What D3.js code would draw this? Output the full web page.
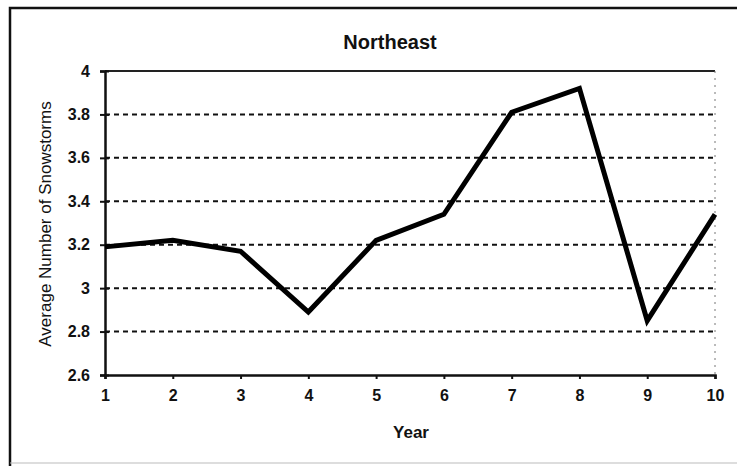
<!DOCTYPE html>
<html>
<head>
<meta charset="utf-8">
<script src="https://cdn.jsdelivr.net/npm/d3@7"></script>
<style>
    body { margin: 0; background: #fff; }
    svg text { font-family: "Liberation Sans", Arial, sans-serif; fill: #111; }
</style>
</head>
<body>
<div id="chart"></div>
<script>
const years = [1, 2, 3, 4, 5, 6, 7, 8, 9, 10];
const snowstorms = [3.19, 3.22, 3.17, 2.89, 3.22, 3.34, 3.81, 3.92, 2.85, 3.34];
const yTicks = [2.6, 2.8, 3, 3.2, 3.4, 3.6, 3.8, 4];

const config = {
    width: 739,
    height: 468,
    margins: { top: 71, right: 24, bottom: 93, left: 105 }
};
const plotW = config.width - config.margins.left - config.margins.right;
const plotH = config.height - config.margins.top - config.margins.bottom;

const svg = d3.select('#chart').append('svg')
    .attr('width', config.width)
    .attr('height', config.height);

// outer frame
svg.append('path')
    .attr('d', 'M10,466 L10,8 L737,8')
    .attr('fill', 'none')
    .attr('stroke', '#111')
    .attr('stroke-width', 2.5);
svg.append('line')
    .attr('x1', 10).attr('x2', 737).attr('y1', 463).attr('y2', 463)
    .attr('stroke', '#bbb').attr('stroke-width', 1);

const g = svg.append('g')
    .attr('transform', 'translate(' + config.margins.left + ',' + config.margins.top + ')');

const x = d3.scaleLinear().domain([1, 10]).range([0, plotW]);
const y = d3.scaleLinear().domain([2.6, 4]).range([plotH, 0]);

// gridlines
g.selectAll('.grid')
    .data(yTicks.filter(d => d > 2.6 && d < 4))
    .enter().append('line')
        .attr('x1', 0).attr('x2', plotW)
        .attr('y1', d => y(d)).attr('y2', d => y(d))
        .attr('stroke', '#111')
        .attr('stroke-width', 2)
        .attr('stroke-dasharray', '5,4');

// top border and faint right border
g.append('line')
    .attr('x1', 0).attr('x2', plotW).attr('y1', 0).attr('y2', 0)
    .attr('stroke', '#222').attr('stroke-width', 1.8);
g.append('line')
    .attr('x1', plotW).attr('x2', plotW).attr('y1', 0).attr('y2', plotH)
    .attr('stroke', '#777').attr('stroke-width', 1)
    .attr('stroke-dasharray', '2,5');

// y axis
const yAxis = g.append('g')
    .call(d3.axisLeft(y).tickValues(yTicks).tickFormat(d3.format('')).tickSize(5).tickPadding(10));
yAxis.select('.domain').attr('stroke', '#111').attr('stroke-width', 2.5);
yAxis.selectAll('.tick line').attr('stroke', '#111').attr('stroke-width', 2).attr('x2', 4).attr('x1', -5);
yAxis.selectAll('.tick text')
    .attr('font-size', 16).attr('font-weight', 'bold');

// x axis
const xAxis = g.append('g')
    .attr('transform', 'translate(0,' + plotH + ')')
    .call(d3.axisBottom(x).tickValues(years).tickFormat(d3.format('d')).tickSize(4).tickPadding(11));
xAxis.select('.domain').attr('stroke', '#111').attr('stroke-width', 2.5);
xAxis.selectAll('.tick line').attr('stroke', '#111').attr('stroke-width', 2);
xAxis.selectAll('.tick text')
    .attr('font-size', 16).attr('font-weight', 'bold');

// data line
g.append('path')
    .datum(years.map((d, i) => [d, snowstorms[i]]))
    .attr('fill', 'none')
    .attr('stroke', '#000')
    .attr('stroke-width', 5)
    .attr('stroke-linejoin', 'miter')
    .attr('d', d3.line().x(d => x(d[0])).y(d => y(d[1])));

// title
svg.append('text')
    .attr('x', 390).attr('y', 49)
    .attr('text-anchor', 'middle')
    .attr('font-size', 20).attr('font-weight', 'bold')
    .text('Northeast');

// axis titles
svg.append('text')
    .attr('x', 411).attr('y', 438)
    .attr('text-anchor', 'middle')
    .attr('font-size', 17).attr('font-weight', 'bold')
    .text('Year');

svg.append('text')
    .attr('transform', 'translate(51,224) rotate(-90)')
    .attr('text-anchor', 'middle')
    .attr('font-size', 17)
    .text('Average Number of Snowstorms');
</script>
</body>
</html>
